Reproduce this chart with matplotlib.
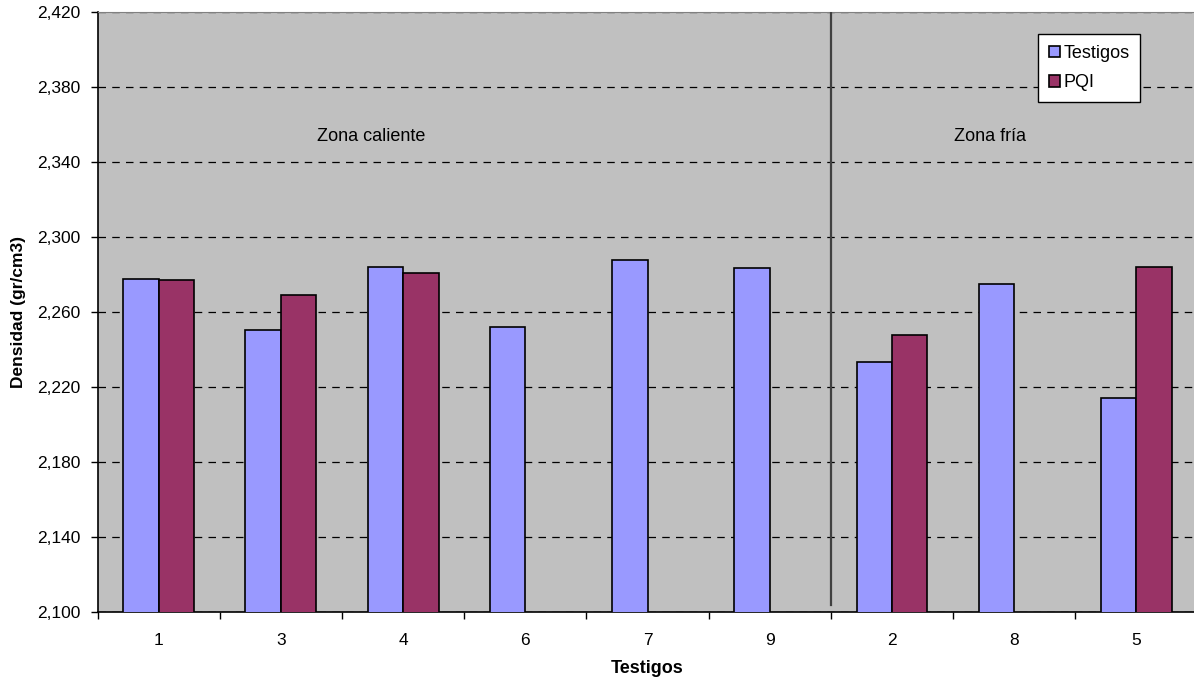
import matplotlib.pyplot as plt
import numpy as np
from matplotlib.patches import Patch
from matplotlib.ticker import FuncFormatter

plt.rcParams['font.family'] = ['Liberation Sans', 'DejaVu Sans']

# densidades por testigo (gr/cm3)
testigos = ['1', '3', '4', '6', '7', '9', '2', '8', '5']
dens_testigos = [2.2778, 2.2504, 2.2838, 2.2518, 2.2879, 2.2836, 2.2333, 2.2749, 2.2140]
dens_pqi = [2.2769, 2.2691, 2.2810, None, None, None, 2.2479, None, 2.2840]

color_testigos = '#9999FF'
color_pqi = '#993366'
fondo = '#C0C0C0'

fig = plt.figure(figsize=(11.94, 6.83), dpi=100)
ax = fig.add_axes([97.5 / 1194, 71 / 683, 1100 / 1194, 600 / 683])
ax.set_facecolor(fondo)

x = np.arange(len(testigos))
ancho = 0.29

ax.bar(x - ancho / 2, dens_testigos, ancho, color=color_testigos,
       edgecolor='black', linewidth=1.2, zorder=3)
x_pqi = [xi for xi, v in zip(x, dens_pqi) if v is not None]
v_pqi = [v for v in dens_pqi if v is not None]
ax.bar(np.array(x_pqi) + ancho / 2, v_pqi, ancho, color=color_pqi,
       edgecolor='black', linewidth=1.2, zorder=3)

ax.set_ylim(2.100, 2.420)
ax.set_xlim(-0.5, len(testigos) - 0.5)
ax.set_yticks(np.arange(2.100, 2.421, 0.040))
ax.yaxis.set_major_formatter(FuncFormatter(lambda v, p: f'{v:.3f}'.replace('.', ',')))
ax.yaxis.grid(True, linestyle=(0, (6, 5)), color='black', linewidth=0.9, zorder=1)

ax.set_xticks(x)
ax.set_xticklabels(testigos)
ax.set_xticks(np.arange(-0.5, len(testigos), 1), minor=True)
ax.tick_params(axis='x', which='major', length=0, pad=15, labelsize=12.5)
ax.tick_params(axis='x', which='minor', length=5, width=1, color='black')
ax.tick_params(axis='y', length=5, width=1, pad=7, labelsize=12.5)

for lado in ['left', 'bottom']:
    ax.spines[lado].set_color('black')
    ax.spines[lado].set_linewidth(1.2)
ax.spines['top'].set_color('#808080')
ax.spines['right'].set_visible(False)

# separación entre zonas
ax.plot([5.5, 5.5], [2.1037, 2.420], color='#404040', linewidth=1.6, zorder=4)
ax.text(1.74, 2.3536, 'Zona caliente', ha='center', va='center', fontsize=13)
ax.text(6.80, 2.3536, 'Zona fría', ha='center', va='center', fontsize=13)

ax.set_ylabel('Densidad (gr/cm3)', fontsize=12.5, fontweight='bold', labelpad=8)
ax.set_xlabel('Testigos', fontsize=13, fontweight='bold', labelpad=9)

handles = [Patch(facecolor=color_testigos, edgecolor='black', linewidth=1.2, label='Testigos'),
           Patch(facecolor=color_pqi, edgecolor='black', linewidth=1.2, label='PQI')]
leg = fig.legend(handles=handles, loc='upper left', bbox_to_anchor=(1038 / 1194, 1 - 34 / 683),
                 fontsize=13, frameon=True, fancybox=False, framealpha=1,
                 edgecolor='black', handlelength=0.6, handleheight=0.6,
                 handletextpad=0.2, borderpad=0.6, labelspacing=0.7, borderaxespad=0)
leg.get_frame().set_linewidth(1.0)

fig.savefig('out.png', dpi=100)
